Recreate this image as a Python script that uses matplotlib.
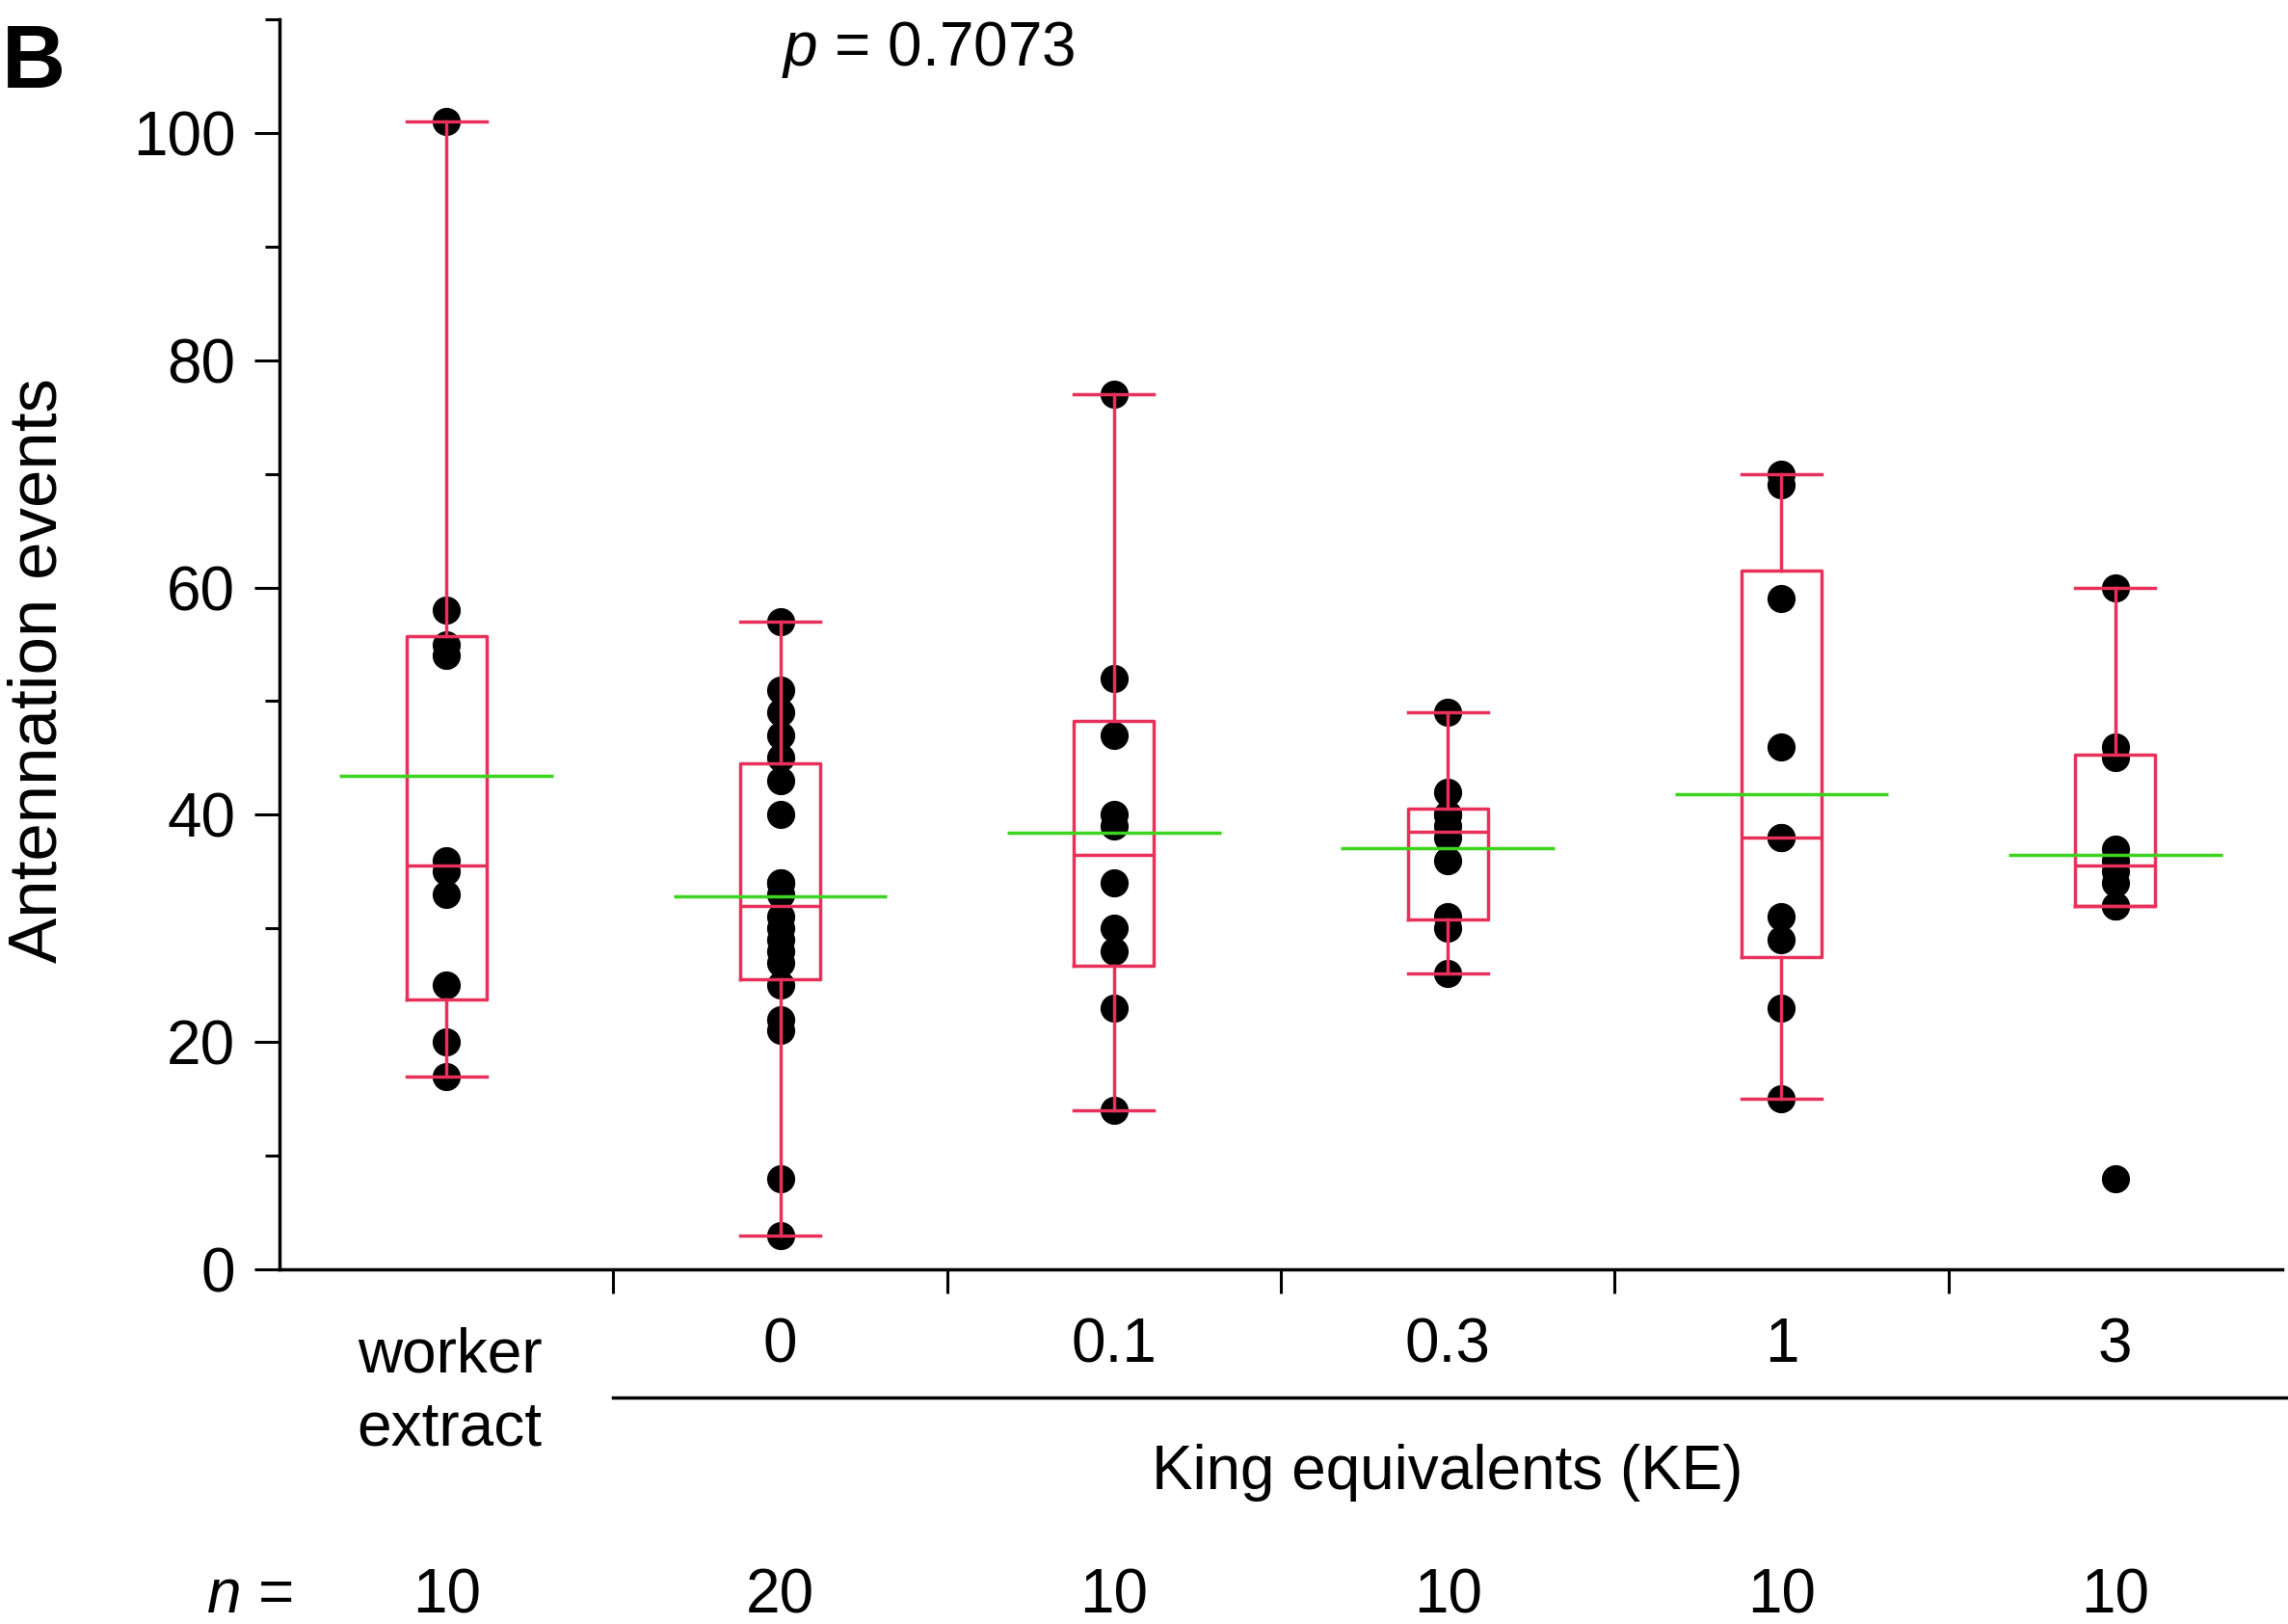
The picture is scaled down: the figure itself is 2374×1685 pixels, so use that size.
import numpy as np
import matplotlib
matplotlib.use('Agg')
import matplotlib.pyplot as plt
from matplotlib.transforms import blended_transform_factory

plt.rcParams['font.family'] = ['Liberation Sans', 'DejaVu Sans']
plt.rcParams['mathtext.fontset'] = 'custom'
plt.rcParams['mathtext.rm'] = 'Liberation Sans'
plt.rcParams['mathtext.it'] = 'Liberation Sans:italic'

# data
groups = ['worker\nextract', '0', '0.1', '0.3', '1', '3']
worker_extract = [17, 20, 25, 33, 35, 36, 54, 55, 58, 101]
ke_0 = [3, 8, 21, 22, 25, 27, 28, 29, 30, 31, 33, 34, 34, 40, 43, 45, 47, 49, 51, 57]
ke_01 = [14, 23, 28, 30, 34, 39, 40, 47, 52, 77]
ke_03 = [26, 30, 31, 36, 38, 39, 40, 40, 42, 49]
ke_1 = [15, 23, 29, 31, 38, 38, 46, 59, 69, 70]
ke_3 = [8, 32, 32, 34, 35, 36, 37, 45, 46, 60]
data = [worker_extract, ke_0, ke_01, ke_03, ke_1, ke_3]
p_value = 0.7073

box_c = '#e8305a'
mean_c = '#3cd41e'
W, H = 2374, 1685

fig = plt.figure(figsize=(W / 100, H / 100), dpi=100)
ax = fig.add_axes([290 / W, 1 - 1317 / H, (2368 - 290) / W, (1317 - 20) / H])

pos = np.arange(1, len(data) + 1)

# box stats (quartiles like Origin, 1.5 IQR whiskers)
stats = []
for d in data:
    d = np.array(d, dtype=float)
    q1, med, q3 = np.percentile(d, [25, 50, 75], method='weibull')
    iqr = q3 - q1
    lo = d[d >= q1 - 1.5 * iqr].min()
    hi = d[d <= q3 + 1.5 * iqr].max()
    stats.append(dict(med=med, q1=q1, q3=q3, whislo=lo, whishi=hi,
                      mean=d.mean(), fliers=[]))

for x, d in zip(pos, data):
    ax.plot(np.full(len(d), x), d, 'o', color='k', ms=20, zorder=2, clip_on=False)

lp = dict(color=box_c, lw=2.5)
ax.bxp(stats, positions=pos, widths=0.24, capwidths=0.24, showfliers=False,
       boxprops=lp, whiskerprops=lp, capprops=lp, medianprops=lp,
       manage_ticks=False, zorder=3)

ax.hlines([s['mean'] for s in stats], pos - 0.32, pos + 0.32,
          color=mean_c, lw=2.5, zorder=4)

ax.set_xlim(0.5, 6.5)
ax.set_ylim(0, 110)
ax.spines['top'].set_visible(False)
ax.spines['right'].set_visible(False)
for s in ['left', 'bottom']:
    ax.spines[s].set_linewidth(2.5)

ax.set_yticks(np.arange(0, 101, 20))
ax.set_yticks(np.arange(10, 111, 20), minor=True)
ax.set_xticks(pos[:-1] + 0.5)
ax.set_xticklabels([])
ax.tick_params(axis='y', which='major', length=19, width=2.2, labelsize=46, pad=14)
ax.tick_params(axis='y', which='minor', length=11, width=2.2)
ax.tick_params(axis='x', which='major', length=18, width=2.2)

tr = blended_transform_factory(ax.transData, fig.transFigure)

def fy(px):
    return 1 - px / H

# category labels
ax.text(pos[0] + 0.01, fy(1423), 'worker', transform=tr, ha='center', va='baseline', fontsize=46)
ax.text(pos[0] + 0.01, fy(1499), 'extract', transform=tr, ha='center', va='baseline', fontsize=46)
for x, g in zip(pos[1:], groups[1:]):
    ax.text(x, fy(1413), g, transform=tr, ha='center', va='baseline', fontsize=46)

# bracket for King equivalents
ax.plot([1.5, 6.53], [fy(1450)] * 2, color='k', lw=2.5, transform=tr, clip_on=False)
ax.text(pos[1:].mean(), fy(1545), 'King equivalents (KE)', transform=tr,
        ha='center', va='baseline', fontsize=46)

# sample sizes
ax.text(0.41, fy(1673), '$n$ =', transform=tr, ha='center', va='baseline', fontsize=46)
for x, d in zip(pos, data):
    ax.text(x, fy(1673), str(len(d)), transform=tr, ha='center', va='baseline', fontsize=46)

ax.text(2.445, fy(68), '$p$ = %.4f' % p_value, transform=tr, ha='center',
        va='baseline', fontsize=46)

fig.text(41 / W, fy(696), 'Antennation events', rotation=90, ha='center',
         va='center', fontsize=51)
fig.text(2 / W, fy(91), 'B', ha='left', va='baseline', fontsize=66, fontweight='bold')

fig.savefig('out.png', dpi=100, facecolor='white')
